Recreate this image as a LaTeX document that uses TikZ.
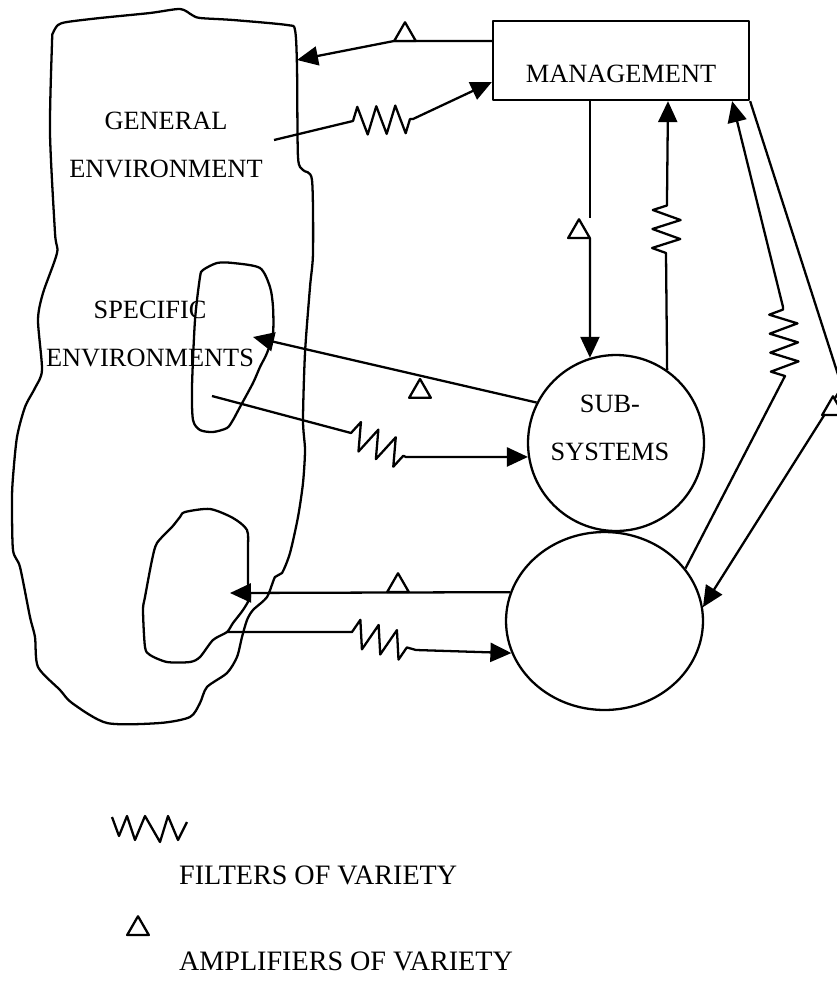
\documentclass[tikz,border=0pt]{standalone}
\usepackage{fontspec}
\setmainfont{Liberation Serif}
\usetikzlibrary{arrows.meta,decorations.pathmorphing,shapes.geometric}

\begin{document}
\begin{tikzpicture}[
            x=0.02cm, y=-0.02cm, line width=1.3pt, line join=round,
            txt/.style={font=\fontsize{15}{27}\selectfont, inner sep=0pt, align=center},
            arr/.style={-{Triangle[length=0.42cm, width=0.38cm]}},
            filt/.style={decoration={zigzag, segment length=0.38cm, amplitude=0.28cm}},
            amp/.style={draw, fill=white, regular polygon, regular polygon sides=3,
                minimum size=0.5cm, inner sep=0pt, outer sep=0pt}
        ]
            \useasboundingbox (0,0) rectangle (836,984);
            \draw plot[smooth cycle, tension=0.45] coordinates {
                (53,33) (58,25) (67,22) (100,18) (150,13) (180,9) (192,15) (200,18)
                (233,20) (287,25) (295,30) (297,67) (298,157) (303,170) (312,180)
                (313,253) (310,287) (305,353) (303,420) (305,450) (303,483) (298,517)
                (290,553) (282,573) (275,577) (267,597) (253,610) (247,620) (242,637)
                (237,657) (227,673) (207,687) (200,703) (190,717) (160,723) (107,723)
                (72,703) (60,690) (38,667) (35,637) (30,617) (20,567) (13,550) (12,500)
                (13,477) (17,437) (25,407) (35,388) (42,370) (38,320) (43,293) (57,253)
                (55,233) (50,133) (52,43)};
            \draw plot[smooth cycle, tension=0.45] coordinates {
                (200,277) (203,270) (217,263) (233,263) (260,268) (270,287) (273,307)
                (273,333) (267,353) (260,367) (253,383) (240,407) (233,420) (227,428)
                (213,432) (200,430) (193,420) (192,387) (195,320)};
            \draw plot[smooth cycle, tension=0.45] coordinates {
                (180,517) (185,512) (210,509) (233,518) (247,530) (248,550) (248,583)
                (250,597) (243,610) (233,623) (227,632) (213,640) (200,657) (190,662)
                (167,662) (150,655) (145,647) (143,610) (145,597) (152,560) (157,543)
                (172,527)};

            \node[txt] (genlbl) at (166,145) {GENERAL\\ENVIRONMENT};
            \node[txt] (speclbl) at (150,334) {SPECIFIC\\ENVIRONMENTS};
            \node[draw, minimum width=5.12cm, minimum height=1.58cm, text height=0.89cm,
                text depth=0pt, font=\fontsize{15}{27}\selectfont] (mgmt) at (621,60.5) {MANAGEMENT};
            \node[draw, circle, minimum size=3.52cm, inner sep=0pt] (subsys) at (616,443) {};
            \node[txt] (subsyslbl) at (610,428) {SUB-\\SYSTEMS};
            \node[draw, ellipse, minimum width=3.94cm, minimum height=3.56cm, inner sep=0pt] (unit) at (604.5,621) {};

            \coordinate (ge1) at (297,60);
            \coordinate (ge2) at (274,140);
            \coordinate (se1) at (253,337);
            \coordinate (se2) at (212,396);
            \coordinate (le1) at (230,593);
            \coordinate (le2) at (227,632);
            \coordinate (dn1) at (590,218);
            \coordinate (dn2) at (590,238);
            \coordinate (up1) at (668,200);

            \draw[arr] ([yshift=0.39cm]mgmt.west) -- (394,41) -- (ge1);
            \node[amp, anchor=south] (amp1) at (405,41) {};
            \draw[arr] (ge2) -- (353,121) decorate[filt]{-- (413,119)} -- ([yshift=-0.43cm]mgmt.west);

            \draw (mgmt.south -| dn1) -- (dn1);
            \node[amp, anchor=south] (amp2) at (579,238) {};
            \draw[arr] (dn2) -- (subsys.107);
            \draw[arr] (subsys.55) -- (666,253) decorate[filt]{-- (667,200)} -- (mgmt.south -| up1);

            \draw[arr] (subsys.153) -- (se1);
            \node[amp, anchor=north] (amp3) at (420,379) {};
            \draw[arr] (se2) -- (351,433) decorate[filt]{-- (406,457)} -- (subsys.189);

            \draw[arr] (unit.33) -- (785,376) decorate[filt]{-- (783,307)} -- ([xshift=-0.36cm]mgmt.south east);
            \draw[arr] (mgmt.south east) -- (842,387) -- (unit.8);
            \node[amp, anchor=south] (amp4) at (833,415) {};

            \draw[arr] (unit.163) -- (le1);
            \node[amp, anchor=south] (amp5) at (398,592) {};
            \draw[arr] (le2) -- (352,632) decorate[filt]{-- (416,650)} -- (unit.199);

            \draw (112,817) -- (119,836) -- (127,816) -- (135,840) -- (145,816) -- (160,842)
                -- (168,816) -- (178,840) -- (187,822);
            \node[txt, font=\fontsize{16}{27}\selectfont, anchor=west] (filtlbl) at (178,875) {FILTERS OF VARIETY};
            \node[amp, anchor=south] (amp6) at (138,935) {};
            \node[txt, font=\fontsize{16}{27}\selectfont, anchor=west] (amplbl) at (178,961) {AMPLIFIERS OF VARIETY};
        \end{tikzpicture}
\end{document}
